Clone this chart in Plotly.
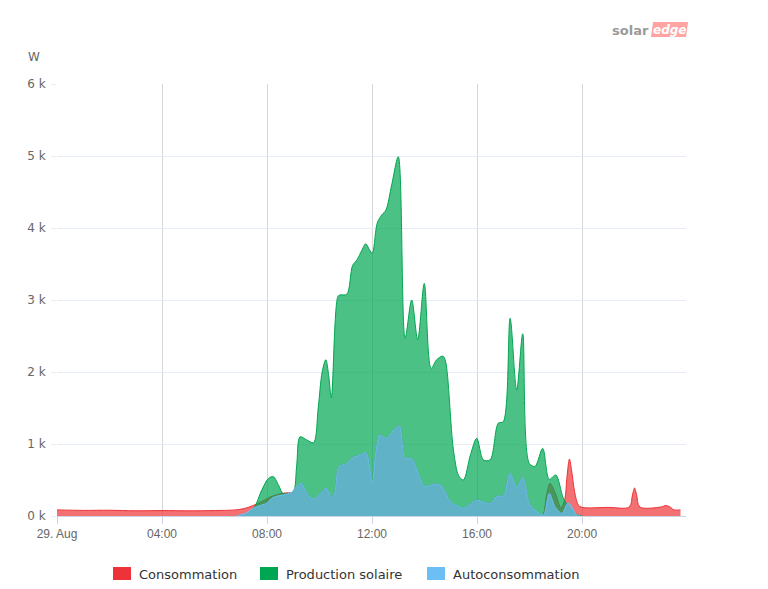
import plotly.graph_objects as go

# ---------------- data (hours of day, Watts) ----------------
tick_hours = [0, 4, 8, 12, 16, 20]
tick_labels = ["29. Aug", "04:00", "08:00", "12:00", "16:00", "20:00"]
y_tick_vals = [0, 1000, 2000, 3000, 4000, 5000, 6000]
y_tick_labels = ["0 k", "1 k", "2 k", "3 k", "4 k", "5 k", "6 k"]

cons_h = [0, 1, 2, 3, 4, 5, 6, 6.8, 7.2, 7.5, 7.8, 8.1, 8.5, 8.7, 8.94,
          9.1, 9.3, 9.5, 9.7, 9.85, 10.0, 10.1, 10.25, 10.4, 10.53, 10.7, 10.78,
          11.03, 11.29, 11.5, 11.77, 11.9, 12.01, 12.15, 12.3, 12.56, 12.8, 13.04,
          13.26, 13.51, 13.75, 14.02, 14.34, 14.59, 14.8, 14.97, 15.2, 15.48, 15.75,
          15.99, 16.3, 16.56, 16.75, 17.0, 17.26, 17.51, 17.74, 18.02, 18.3, 18.5,
          18.65, 18.78, 19.0, 19.2, 19.35, 19.42, 19.52, 19.6, 19.72, 19.86, 20.0,
          21.0, 21.8, 21.92, 22.0, 22.08, 22.2, 23.0, 23.2, 23.35, 23.5, 23.75]
cons_w = [85, 78, 80, 72, 76, 72, 76, 85, 110, 150, 200, 260, 310, 320, 329,
          400, 454, 330, 245, 250, 300, 340, 384, 300, 268, 650, 694,
          731, 815, 840, 880, 700, 454, 900, 1125, 1079, 1180, 1250,
          801, 801, 600, 407, 444, 430, 330, 200, 150, 107, 170,
          222, 185, 185, 278, 278, 593, 398, 532, 153, 60, 20,
          290, 454, 300, 110, 245, 520, 790, 640, 330, 153, 120,
          120, 125, 290, 390, 290, 125, 125, 145, 125, 85, 85]

prod_h = [6.9, 7.2, 7.5, 7.8, 8.05, 8.24, 8.45, 8.6, 8.8, 9.0, 9.13, 9.26, 9.5,
          9.77, 9.95, 10.1, 10.24, 10.35, 10.45, 10.7, 10.78, 11.04, 11.26, 11.43,
          11.6, 11.76, 11.9, 12.01, 12.2, 12.37, 12.53, 12.75, 13.0, 13.26, 13.51,
          13.74, 13.99, 14.25, 14.46, 14.7, 14.8, 15.1, 15.3, 15.48, 15.75, 15.99,
          16.24, 16.5, 16.81, 17.0, 17.26, 17.51, 17.74, 17.99, 18.21, 18.5, 18.75,
          19.0, 19.29, 19.54, 19.8, 20.0]
prod_w = [0, 20, 110, 360, 520, 546, 420, 315, 310, 330, 700, 1100, 1060,
          1018, 1500, 2000, 2170, 1950, 1640, 3050, 3070, 3080, 3480, 3560,
          3680, 3780, 3700, 3650, 4070, 4180, 4250, 4600, 4990, 2470, 3000,
          2450, 3230, 2050, 2170, 2220, 2150, 920, 560, 500, 850, 1080,
          780, 780, 1290, 1310, 2745, 1750, 2530, 730, 690, 940, 510,
          570, 245, 110, 20, 0]

auto_h = [6.84, 7.2, 7.48, 7.8, 7.99, 8.18, 8.37, 8.62, 8.94,
          9.1, 9.3, 9.5, 9.7, 9.85, 10.0, 10.1, 10.25, 10.4, 10.53, 10.7, 10.78,
          11.03, 11.29, 11.5, 11.77, 11.9, 12.01, 12.15, 12.3, 12.56, 12.8, 13.04,
          13.26, 13.51, 13.75, 14.02, 14.34, 14.59, 14.8, 14.97, 15.2, 15.48, 15.75,
          15.99, 16.3, 16.56, 16.75, 17.0, 17.26, 17.51, 17.74, 18.02, 18.3, 18.53,
          18.75, 18.97, 19.23, 19.48, 19.8, 19.95]
auto_w = [0, 40, 107, 153, 176, 245, 275, 292, 329,
          400, 454, 330, 245, 250, 300, 340, 384, 300, 268, 650, 694,
          731, 815, 840, 880, 700, 454, 900, 1125, 1079, 1180, 1250,
          801, 801, 600, 407, 444, 430, 330, 200, 150, 107, 170,
          222, 185, 185, 278, 278, 593, 398, 532, 153, 60, 14,
          315, 130, 37, 185, 14, 0]

series_names = ["Consommation", "Production solaire", "Autoconsommation"]
series_colors = ["#ee3338", "#00a651", "#6bbff5"]
series_fills = ["rgba(238,51,56,0.70)", "rgba(0,166,81,0.70)", "rgba(107,191,245,0.70)"]

# ---------------- figure ----------------
fig = go.Figure()
for xs, ys, name, col, fc in [(cons_h, cons_w, series_names[0], series_colors[0], series_fills[0]),
                              (prod_h, prod_w, series_names[1], series_colors[1], series_fills[1]),
                              (auto_h, auto_w, series_names[2], series_colors[2], series_fills[2])]:
    fig.add_trace(go.Scatter(
        x=xs, y=ys, name=name, mode="lines",
        line=dict(color=col, width=1, shape="spline", smoothing=0.9),
        fill="tozeroy", fillcolor=fc, showlegend=False, hoverinfo="skip"))

OFF = 8                      # default page body margin
W, H = 768 - OFF, 589 - OFF  # figure size
L, R, T, B = 57, 686, 84, 516  # plot area in screen pixels
pw, ph = R - L, B - T

def px(x):
    return (x - L) / pw

def py(y):
    return (B - y) / ph

fig.update_layout(
    width=W, height=H,
    margin=dict(l=L - OFF, r=W - (R - OFF), t=T - OFF, b=H - (B - OFF), pad=0),
    paper_bgcolor="white", plot_bgcolor="white",
    font=dict(family="DejaVu Sans", color="#666666", size=12),
)
fig.update_xaxes(
    range=[0, 23.96], tickvals=tick_hours, ticktext=tick_labels,
    showgrid=True, gridcolor="#d6d6d6", gridwidth=1,
    showline=True, linecolor="#ccd6eb", linewidth=1,
    ticks="outside", ticklen=7, tickcolor="#ccd6eb",
    tickfont=dict(family="Liberation Sans Narrow, Liberation Sans, sans-serif",
                  size=12, color="#666666"),
    zeroline=False, fixedrange=True,
)
fig.update_yaxes(
    range=[0, 6000], tickvals=y_tick_vals, ticktext=y_tick_labels,
    showgrid=True, gridcolor="#e6edf7", gridwidth=1,
    showline=False, zeroline=False, ticks="outside", ticklen=5, tickcolor="#e6edf7",
    tickfont=dict(family="DejaVu Sans", size=12, color="#666666"),
    ticklabelstandoff=3, fixedrange=True,
)

annotations = []
shapes = []
# axis unit title
annotations.append(dict(text="W", x=px(34), y=py(57), xref="paper", yref="paper",
                        showarrow=False, xanchor="center", yanchor="middle",
                        font=dict(family="DejaVu Sans", size=12, color="#666666")))
# logo
annotations.append(dict(text="<b>solar</b>", x=px(651), y=py(30), xref="paper", yref="paper",
                        showarrow=False, xanchor="right", yanchor="middle",
                        font=dict(family="DejaVu Sans", size=13, color="#9a9a9a")))
shapes.append(dict(type="path", xref="paper", yref="paper",
                   path=f"M {px(653)} {py(22)} L {px(688)} {py(22)} L {px(686)} {py(37)} L {px(651)} {py(37)} Z",
                   fillcolor="#ffa3a3", line=dict(width=0), layer="above"))
annotations.append(dict(text="<b><i>edge</i></b>", x=px(669), y=py(30), xref="paper", yref="paper",
                        showarrow=False, xanchor="center", yanchor="middle",
                        font=dict(family="DejaVu Sans", size=12, color="white")))
# legend
legend_x = [113, 260, 427]
for lx, name, col in zip(legend_x, series_names, series_colors):
    shapes.append(dict(type="rect", xref="paper", yref="paper",
                       x0=px(lx), x1=px(lx + 18), y0=py(580), y1=py(567),
                       fillcolor=col, line=dict(width=0)))
    annotations.append(dict(text=name, x=px(lx + 24), y=py(574), xref="paper", yref="paper",
                            showarrow=False, xanchor="left", yanchor="middle",
                            font=dict(family="DejaVu Sans", size=13, color="#333333")))
# small orange dot at right edge
shapes.append(dict(type="circle", xref="paper", yref="paper",
                   xsizemode="pixel", ysizemode="pixel",
                   xanchor=px(764), yanchor=py(295), x0=-1.2, x1=1.2, y0=-1.2, y1=1.2,
                   fillcolor="#f07a2a", line=dict(width=0)))

fig.update_layout(annotations=annotations, shapes=shapes)
fig.write_html("out.html")
